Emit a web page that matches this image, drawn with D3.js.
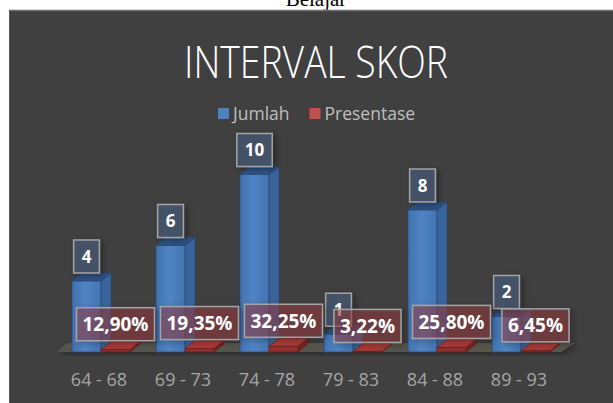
<!DOCTYPE html>
<html>
<head>
<meta charset="utf-8">
<script src="https://cdn.jsdelivr.net/npm/d3@7"></script>
<style>
  body { margin: 0; background: #fff; }
  svg { display: block; }
</style>
</head>
<body>
<div id="chart"></div>
<script>
var categories = ["64 - 68", "69 - 73", "74 - 78", "79 - 83", "84 - 88", "89 - 93"];
var jumlah = [4, 6, 10, 1, 8, 2];
var presentase = [0.129, 0.1935, 0.3225, 0.0322, 0.258, 0.0645];
var presentaseLabels = ["12,90%", "19,35%", "32,25%", "3,22%", "25,80%", "6,45%"];
var seriesNames = ["Jumlah", "Presentase"];

var width = 613, height = 403;
var dx = 10, dy = -8;   // 3d depth offset

var svg = d3.select("#chart").append("svg")
    .attr("width", width)
    .attr("height", height);

var defs = svg.append("defs");
defs.append("filter").attr("id", "shadow")
    .attr("x", "-30%").attr("y", "-30%").attr("width", "170%").attr("height", "170%")
  .append("feDropShadow")
    .attr("dx", 3).attr("dy", 2).attr("stdDeviation", 3)
    .attr("flood-color", "#000").attr("flood-opacity", 0.4);

var blueGrad = defs.append("linearGradient").attr("id", "blueFront");
blueGrad.append("stop").attr("offset", "0%").attr("stop-color", "#4272b0");
blueGrad.append("stop").attr("offset", "45%").attr("stop-color", "#4f84c4");
blueGrad.append("stop").attr("offset", "100%").attr("stop-color", "#4474b2");

// caption text of the page above the chart (cut off)
svg.append("text")
    .attr("x", 316).attr("y", 6)
    .attr("text-anchor", "middle")
    .style("font-family", "'Liberation Serif', serif")
    .style("font-size", "21px")
    .style("fill", "#000")
    .text("Belajar");

// chart background
svg.append("rect")
    .attr("x", 9).attr("y", 10)
    .attr("width", width - 9).attr("height", height - 10)
    .style("fill", "#404040");
svg.append("line")
    .attr("x1", 9).attr("x2", width).attr("y1", 10.5).attr("y2", 10.5)
    .style("stroke", "#6e6e6e").style("stroke-width", 1.5);
svg.append("line")
    .attr("x1", 9.5).attr("x2", 9.5).attr("y1", 10).attr("y2", height)
    .style("stroke", "#5a5a5a").style("stroke-width", 1);

// title
svg.append("text")
    .attr("x", 316).attr("y", 78)
    .attr("text-anchor", "middle")
    .attr("textLength", 264)
    .attr("lengthAdjust", "spacingAndGlyphs")
    .style("font-family", "'Open Sans', sans-serif")
    .style("font-weight", 300)
    .style("font-size", "45px")
    .style("fill", "#fff")
    .text("INTERVAL SKOR");

// scales
var x = d3.scaleBand()
    .domain(categories)
    .range([59, 59 + 6 * 84])
    .paddingInner(0.31)
    .paddingOuter(0.155);

var xs = d3.scaleBand()
    .domain(seriesNames)
    .range([0, x.bandwidth()]);

var y = d3.scaleLinear()
    .domain([0, 10])
    .range([352, 174.5]);

var base = y(0);

// floor
var fx0 = x.range()[0] - 2, fx1 = x.range()[1] - 2;
svg.append("polygon")
    .attr("points", [[fx0, base], [fx0 + 10, base - 9], [fx1 + 14, base - 9], [fx1, base]].join(" "))
    .style("fill", "#57554b")
    .style("filter", "url(#shadow)");

function bar3d(g, x0, w, v, c) {
    var yt = y(v);
    g.append("polygon")
        .attr("points", [[x0 + w, yt], [x0 + w + dx, yt + dy], [x0 + w + dx, base + dy], [x0 + w, base]].join(" "))
        .style("fill", c.side).style("stroke", c.edge).style("stroke-width", 0.8);
    g.append("polygon")
        .attr("points", [[x0, yt], [x0 + dx, yt + dy], [x0 + w + dx, yt + dy], [x0 + w, yt]].join(" "))
        .style("fill", c.top).style("stroke", c.edge).style("stroke-width", 0.8);
    g.append("rect")
        .attr("x", x0).attr("y", yt)
        .attr("width", w).attr("height", base - yt)
        .style("fill", c.front).style("stroke", c.edge).style("stroke-width", 0.8);
}

var blue = { front: "url(#blueFront)", side: "#3a649c", top: "#2f5386", edge: "#2a4a78" };
var red = { front: "#922f2d", side: "#722322", top: "#a83b38", edge: "#6a2020" };

var bars = svg.append("g");
categories.forEach(function(cat, i) {
    var g = bars.append("g");
    bar3d(g, x(cat) + xs("Jumlah"), xs.bandwidth(), jumlah[i], blue);
    bar3d(g, x(cat) + xs("Presentase"), xs.bandwidth(), presentase[i], red);
});

// axis labels
var axis = svg.append("g")
    .attr("transform", "translate(-2," + base + ")")
    .call(d3.axisBottom(x).tickSize(0).tickPadding(21));
axis.select(".domain").remove();
axis.selectAll("text")
    .style("font-family", "'Open Sans', sans-serif")
    .style("font-size", "18px")
    .style("fill", "#a6a6a6");

// data labels
function dataLabel(parent, cx, bottom, txt, fontSize, pad, fill) {
    var g = parent.append("g");
    var rect = g.append("rect");
    var t = g.append("text")
        .attr("x", cx)
        .attr("text-anchor", "middle")
        .style("font-family", "'Open Sans', sans-serif")
        .style("font-weight", "bold")
        .style("font-size", fontSize + "px")
        .style("fill", "#fff")
        .text(txt);
    var w = t.node().getComputedTextLength() + 2 * pad;
    var h = 33;
    rect.attr("x", cx - w / 2).attr("y", bottom - h)
        .attr("width", w).attr("height", h)
        .style("fill", fill)
        .style("stroke", "#a3a3a3").style("stroke-width", 1.5)
        .style("filter", "url(#shadow)");
    t.attr("y", bottom - h / 2).attr("dy", "0.36em");
}

var countLabels = svg.append("g");
var pctLabels = svg.append("g");
categories.forEach(function(cat, i) {
    var bx = x(cat) + xs("Jumlah") + xs.bandwidth() / 2;
    dataLabel(countLabels, bx, y(jumlah[i]) + dy, String(jumlah[i]), 17, 8, "rgba(68,84,106,0.92)");
    var rx = x(cat) + xs("Presentase") + xs.bandwidth() / 2;
    dataLabel(pctLabels, rx, y(presentase[i]) + dy - 1, presentaseLabels[i], 19, 6, "rgba(150,62,66,0.5)");
});

// legend
var legend = svg.append("g").attr("transform", "translate(218,108)");
var legendColors = ["#4f81bd", "#c0504d"];
var lx = 0;
seriesNames.forEach(function(name, i) {
    legend.append("rect")
        .attr("x", lx).attr("y", 0)
        .attr("width", 11).attr("height", 11)
        .style("fill", legendColors[i]);
    var t = legend.append("text")
        .attr("x", lx + 15).attr("y", 12)
        .style("font-family", "'Open Sans', sans-serif")
        .style("font-size", "17.5px")
        .style("fill", "#bfbfbf")
        .text(name);
    lx += 15 + t.node().getComputedTextLength() + 20;
});
</script>
</body>
</html>
